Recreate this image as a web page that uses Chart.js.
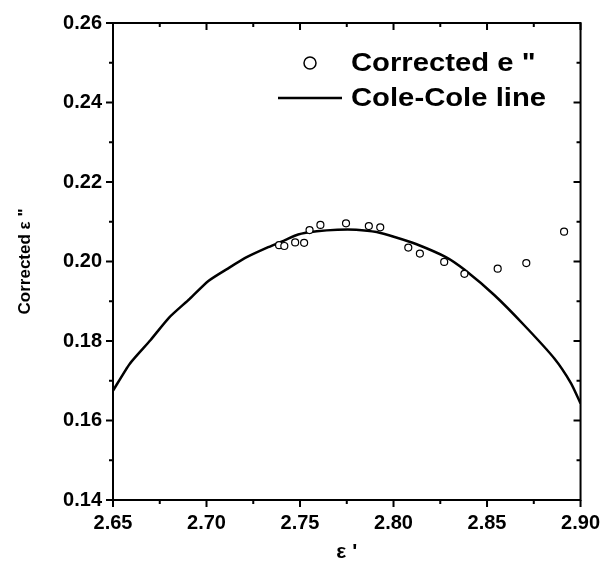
<!DOCTYPE html>
<html>
<head>
<meta charset="utf-8">
<script src="https://cdn.jsdelivr.net/npm/chart.js@4"></script>
<style>
  body { margin: 0; background: #fff; }
  #wrap { width: 611px; height: 573px; }
</style>
</head>
<body>
<div id="wrap"><canvas id="coleChart"></canvas></div>
<script>
// measured points (corrected e'')
const epsReal = [2.7388, 2.7416, 2.7474, 2.7522, 2.7551, 2.7609, 2.7746, 2.7868, 2.7929,
                 2.8079, 2.8141, 2.8271, 2.8379, 2.8557, 2.8710, 2.8912];
const epsImag = [0.2041, 0.2039, 0.2048, 0.2047, 0.2079, 0.2092, 0.2096, 0.2089, 0.2086,
                 0.2035, 0.2020, 0.1999, 0.1969, 0.1982, 0.1996, 0.2075];

// Cole-Cole fit line
const lineReal = [2.650, 2.659, 2.670, 2.680, 2.691, 2.701, 2.712, 2.722, 2.733, 2.742,
                  2.749, 2.759, 2.770, 2.780, 2.791, 2.801, 2.812, 2.828, 2.838, 2.854,
                  2.870, 2.886, 2.895, 2.900];
const lineImag = [0.1675, 0.1743, 0.1802, 0.1859, 0.1906, 0.1951, 0.1984, 0.2012, 0.2036, 0.2054,
                  0.2068, 0.2076, 0.2080, 0.2080, 0.2074, 0.2061, 0.2044, 0.2011, 0.1979, 0.1915,
                  0.1839, 0.1756, 0.1693, 0.1643];

const seriesNames = ['Corrected e "', 'Cole-Cole line'];

const FONT = 'Liberation Sans, Arial, sans-serif';

// frame with major/minor ticks: left & bottom outward, top & right inward
const framePlugin = {
    id: 'frame',
    afterDatasetsDraw(chart) {
        const ctx = chart.ctx;
        const a = chart.chartArea;
        const xs = chart.scales.x, ys = chart.scales.y;
        ctx.save();
        ctx.strokeStyle = '#000';
        ctx.lineWidth = 2;
        ctx.strokeRect(a.left, a.top, a.right - a.left, a.bottom - a.top);
        ctx.beginPath();
        xs.ticks.forEach(t => {
            const px = xs.getPixelForValue(t.value);
            const len = t.label === '' ? 4 : 7;
            ctx.moveTo(px, a.bottom); ctx.lineTo(px, a.bottom + len);
            ctx.moveTo(px, a.top); ctx.lineTo(px, a.top + len);
        });
        ys.ticks.forEach(t => {
            const py = ys.getPixelForValue(t.value);
            const len = t.label === '' ? 4 : 7;
            ctx.moveTo(a.left, py); ctx.lineTo(a.left - len, py);
            ctx.moveTo(a.right, py); ctx.lineTo(a.right - len, py);
        });
        ctx.stroke();
        ctx.restore();
    },
    afterDraw(chart) {
        // legend inside the plot, top right
        const ctx = chart.ctx;
        const ds = chart.data.datasets;
        ctx.save();
        ctx.strokeStyle = '#000';
        ctx.lineWidth = 1.5;
        ctx.beginPath();
        ctx.arc(310, 63, 6, 0, Math.PI * 2);
        ctx.stroke();
        ctx.lineWidth = 2.5;
        ctx.beginPath();
        ctx.moveTo(278, 98); ctx.lineTo(342, 98);
        ctx.stroke();
        // the source text is a bit wide, stretch it
        ctx.font = 'bold 25px ' + FONT;
        ctx.fillStyle = '#000';
        ctx.textBaseline = 'middle';
        ctx.translate(351, 0);
        ctx.scale(1.17, 1);
        ctx.fillText(ds[0].label, 0, 64);
        ctx.fillText(ds[1].label, 0, 99);
        ctx.restore();
    }
};

document.addEventListener('DOMContentLoaded', function () {
    const ctx = document.getElementById('coleChart').getContext('2d');
    new Chart(ctx, {
        type: 'scatter',
        data: {
            datasets: [
                {
                    label: seriesNames[0],
                    data: epsReal.map((x, i) => ({ x: x, y: epsImag[i] })),
                    pointStyle: 'circle',
                    pointRadius: 3.5,
                    pointBorderWidth: 1.2,
                    pointBorderColor: '#000',
                    pointBackgroundColor: '#fff',
                    showLine: false
                },
                {
                    label: seriesNames[1],
                    data: lineReal.map((x, i) => ({ x: x, y: lineImag[i] })),
                    showLine: true,
                    borderColor: '#000',
                    borderWidth: 2.5,
                    pointRadius: 0,
                    tension: 0.2
                }
            ]
        },
        options: {
            responsive: true,
            maintainAspectRatio: false,
            animation: false,
            layout: { padding: { left: 0, top: 22, right: 24, bottom: 0 } },
            plugins: {
                legend: { display: false },
                tooltip: { enabled: false }
            },
            scales: {
                x: {
                    type: 'linear',
                    min: 2.65,
                    max: 2.90,
                    afterFit: s => { s.height = 73; },
                    grid: { display: false, drawTicks: false },
                    border: { display: false },
                    ticks: {
                        stepSize: 0.025,
                        autoSkip: false,
                        maxRotation: 0,
                        padding: 11,
                        color: '#000',
                        font: { family: FONT, size: 20, weight: 'bold' },
                        callback: v => Math.round(v * 1000) % 50 === 0 ? v.toFixed(2) : ''
                    },
                    title: {
                        display: true,
                        text: "ε '",
                        color: '#000',
                        font: { family: FONT, size: 21, weight: 'bold' },
                        padding: { top: 0, bottom: 8 }
                    }
                },
                y: {
                    type: 'linear',
                    min: 0.14,
                    max: 0.26,
                    afterFit: s => { s.width = 113; },
                    grid: { display: false, drawTicks: false },
                    border: { display: false },
                    ticks: {
                        stepSize: 0.01,
                        autoSkip: false,
                        padding: 11,
                        color: '#000',
                        font: { family: FONT, size: 20, weight: 'bold' },
                        callback: v => Math.round(v * 100) % 2 === 0 ? v.toFixed(2) : ''
                    },
                    title: {
                        display: true,
                        text: 'Corrected ε "',
                        color: '#000',
                        font: { family: FONT, size: 17, weight: 'bold' },
                        padding: { top: 15, bottom: 0 }
                    }
                }
            }
        },
        plugins: [framePlugin]
    });
});
</script>
</body>
</html>
